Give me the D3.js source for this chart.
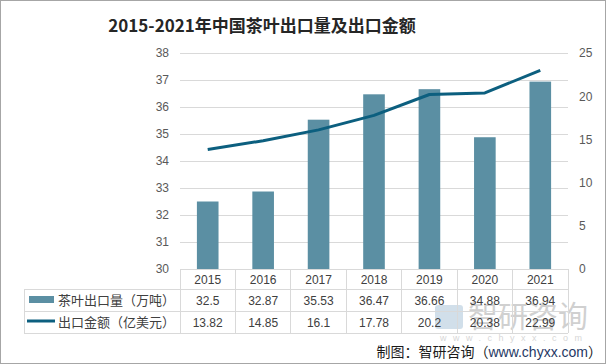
<!DOCTYPE html>
<html><head><meta charset="utf-8">
<script src="https://cdn.jsdelivr.net/npm/d3@7/dist/d3.min.js"></script>
<style>
html,body{margin:0;padding:0;background:#fff;}
svg{display:block;font-family:"Liberation Sans","Noto Sans CJK SC",sans-serif;}
</style></head>
<body><svg id="c" width="606" height="364"></svg>
<script>
const years = ["2015","2016","2017","2018","2019","2020","2021"];
const volume = [32.5, 32.87, 35.53, 36.47, 36.66, 34.88, 36.94];
const amount = [13.82, 14.85, 16.1, 17.78, 20.2, 20.38, 22.99];
const leftTicks = [30,31,32,33,34,35,36,37,38];
const rightTicks = [0,5,10,15,20,25];
const title = "2015-2021年中国茶叶出口量及出口金额";
const seriesNames = ["茶叶出口量（万吨）","出口金额（亿美元）"];

const svg = d3.select("#c");
const barColor = "#5b8fa3", lineColor = "#0c5f7f", grid = "#d9d9d9", txt = "#595959";

svg.append("rect").attr("x",0.5).attr("y",0.5).attr("width",605).attr("height",363)
  .attr("fill","#fff").attr("stroke","#a6a6a6");

// watermark
const wm = svg.append("g").attr("opacity",0.4);
wm.append("rect").attr("x",435).attr("y",305).attr("width",28).attr("height",24).attr("rx",3).attr("fill","#8fb0cc");
wm.append("text").attr("x",468).attr("y",327).attr("font-size",30)
  .attr("font-family","Noto Sans CJK SC").attr("fill","#8c8c8c").text("智研咨询");
wm.append("text").attr("x",440).attr("y",341).attr("font-size",9).attr("letter-spacing",6.5)
  .attr("fill","#999").text("www.chyxx.com");

svg.append("text").attr("x",262).attr("y",32).attr("text-anchor","middle")
  .attr("font-size",17).attr("font-weight","bold").attr("fill","#262626")
  .attr("font-family","'Noto Sans CJK SC',sans-serif").text(title);

const x0 = 180, x1 = 568, yTop = 53, yBot = 269;
const x = d3.scaleBand().domain(years).range([x0,x1]).padding(0);
const yL = d3.scaleLinear().domain([30,38]).range([yBot,yTop]);
const yR = d3.scaleLinear().domain([0,25]).range([yBot,yTop]);

// gridlines
svg.append("g").selectAll("line").data(leftTicks.filter(d=>d>30)).join("line")
  .attr("x1",x0).attr("x2",x1).attr("y1",d=>Math.round(yL(d))+0.5).attr("y2",d=>Math.round(yL(d))+0.5)
  .attr("stroke",grid);

// left axis
const gL = svg.append("g").attr("transform",`translate(${x0},0)`)
  .call(d3.axisLeft(yL).tickValues(leftTicks).tickSize(0).tickPadding(11).tickFormat(d3.format("d")));
gL.select(".domain").remove();
gL.selectAll("text").attr("font-size",12).attr("fill",txt);
// right axis
const gR = svg.append("g").attr("transform",`translate(${x1},0)`)
  .call(d3.axisRight(yR).tickValues(rightTicks).tickSize(0).tickPadding(11).tickFormat(d3.format("d")));
gR.select(".domain").remove();
gR.selectAll("text").attr("font-size",12).attr("fill",txt);

// bars
const bw = x.bandwidth()*0.39;
svg.append("g").selectAll("rect").data(volume).join("rect")
  .attr("x",(d,i)=>x(years[i])+(x.bandwidth()-bw)/2).attr("width",bw)
  .attr("y",d=>yL(d)).attr("height",d=>yBot-yL(d)).attr("fill",barColor);

// line
svg.append("path").datum(amount)
  .attr("d",d3.line().x((d,i)=>x(years[i])+x.bandwidth()/2).y(d=>yR(d)))
  .attr("fill","none").attr("stroke",lineColor).attr("stroke-width",3).attr("stroke-linejoin","round");

// data table
const tL = 24, r0 = 269, r1 = 289, r2 = 311, r3 = 333;
const tg = svg.append("g").attr("stroke",grid).attr("shape-rendering","crispEdges");
tg.append("line").attr("x1",x0).attr("x2",x1).attr("y1",r0).attr("y2",r0);
[r1,r2,r3].forEach(r=>tg.append("line").attr("x1",tL).attr("x2",x1).attr("y1",r).attr("y2",r));
tg.append("line").attr("x1",tL).attr("x2",tL).attr("y1",r1).attr("y2",r3);
years.concat(["end"]).forEach((yv,i)=>{
  const xx = i<years.length ? x(yv) : x1;
  tg.append("line").attr("x1",xx).attr("x2",xx).attr("y1",r0).attr("y2",r3);
});
const cell = (t,cx,by)=>svg.append("text").attr("x",cx).attr("y",by).attr("text-anchor","middle")
  .attr("font-size",12).attr("fill","#404040").text(t);
years.forEach((yv,i)=>{
  const cx = x(yv)+x.bandwidth()/2;
  cell(yv,cx,284);
  cell(String(volume[i]),cx,305);
  cell(String(amount[i]),cx,327);
});
// legend keys
svg.append("rect").attr("x",29).attr("y",296).attr("width",25).attr("height",7).attr("fill",barColor);
svg.append("line").attr("x1",27).attr("x2",55).attr("y1",321).attr("y2",321)
  .attr("stroke",lineColor).attr("stroke-width",3);
svg.append("text").attr("x",58).attr("y",305).attr("font-size",13).attr("fill","#404040")
  .attr("font-family","'Noto Sans CJK SC',sans-serif").text(seriesNames[0]);
svg.append("text").attr("x",58).attr("y",327).attr("font-size",13).attr("fill","#404040")
  .attr("font-family","'Noto Sans CJK SC',sans-serif").text(seriesNames[1]);

// source
const src = svg.append("text").attr("x",602).attr("y",357).attr("text-anchor","end")
  .attr("font-size",14).attr("fill","#1a1a1a").attr("font-family","'Noto Sans CJK SC',sans-serif");
src.append("tspan").text("制图：智研咨询（");
src.append("tspan").attr("fill","#1f3864").attr("font-family","'Liberation Sans',sans-serif").text("www.chyxx.com");
src.append("tspan").text("）");
</script></body></html>
